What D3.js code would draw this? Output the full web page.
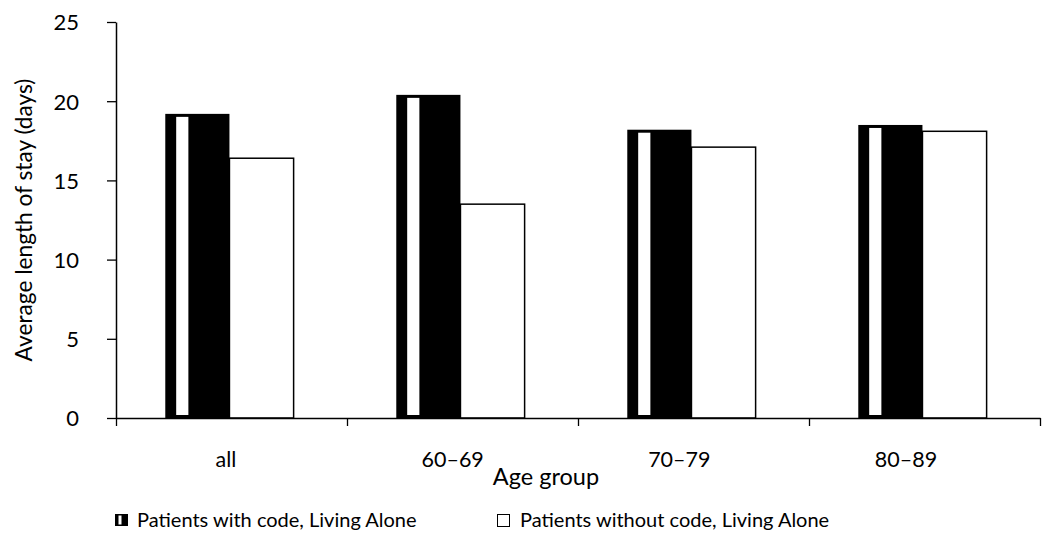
<!DOCTYPE html>
<html>
<head>
<meta charset="utf-8">
<script src="https://cdn.jsdelivr.net/npm/d3@7"></script>
<style>
  html, body { margin: 0; padding: 0; background: #fff; }
  svg { display: block; }
  text { font-family: Lato, "Open Sans", sans-serif; fill: #000; }
</style>
</head>
<body>
<svg id="chart" width="1045" height="540"></svg>
<script>
// Average length of stay by age group
const categories = ["all", "60–69", "70–79", "80–89"];
const seriesNames = ["Patients with code, Living Alone", "Patients without code, Living Alone"];
const withCode = [19.2, 20.4, 18.2, 18.5];
const withoutCode = [16.4, 13.5, 17.1, 18.1];
const yTicks = [0, 5, 10, 15, 20, 25];

const rows = categories.map((c, i) => ({ category: c, values: [withCode[i], withoutCode[i]] }));

const svg = d3.select("#chart");
const plot = { left: 116, right: 1040, top: 22, bottom: 418 };

const x = d3.scaleBand().domain(categories).range([plot.left, plot.right]).paddingInner(0).paddingOuter(0);
const xInner = d3.scaleBand().domain([0, 1]).range([0, x.bandwidth()])
  .paddingInner(0).paddingOuter(0.8).align(0.48);
const y = d3.scaleLinear().domain([0, 25]).range([plot.bottom, plot.top]);
const boundary = d3.scaleLinear().domain([0, categories.length]).range([plot.left, plot.right]);
// category labels sit slightly left of the band centres
const labelX = d3.scalePoint().domain(categories).range([226, 906]);

// Bars
const groups = svg.append("g").selectAll("g").data(rows).join("g")
  .attr("transform", d => `translate(${x(d.category)},0)`);

groups.each(function (d) {
  const g = d3.select(this);
  const bw = xInner.bandwidth();
  // black bar with a light vertical stripe
  g.append("rect")
    .attr("x", xInner(0)).attr("y", y(d.values[0]))
    .attr("width", bw).attr("height", y(0) - y(d.values[0]))
    .attr("fill", "#000");
  g.append("rect")
    .attr("x", xInner(0) + bw * 0.17).attr("y", y(d.values[0]) + 3)
    .attr("width", bw * 0.19).attr("height", Math.max(0, y(0) - y(d.values[0]) - 6))
    .attr("fill", "#fff");
  // white bar with outline
  g.append("rect")
    .attr("x", xInner(1)).attr("y", y(d.values[1]))
    .attr("width", bw).attr("height", y(0) - y(d.values[1]))
    .attr("fill", "#fff").attr("stroke", "#000").attr("stroke-width", 1.5);
});

// Y axis
const yAxis = svg.append("g").attr("transform", `translate(${plot.left},0)`)
  .call(d3.axisLeft(y).tickValues(yTicks).tickSize(9).tickPadding(28).tickSizeOuter(0));
yAxis.select(".domain").attr("stroke-width", 1.5);
yAxis.selectAll(".tick line").attr("stroke-width", 1.3);
yAxis.selectAll("text").style("font-size", "22px").attr("dy", "0.36em");

// X axis with ticks at category boundaries
const xAxis = svg.append("g").attr("transform", `translate(0,${plot.bottom})`)
  .call(d3.axisBottom(boundary).tickValues(d3.range(categories.length + 1)).tickFormat("").tickSize(8).tickSizeOuter(0));
xAxis.select(".domain").attr("stroke-width", 1.5);
xAxis.selectAll(".tick line").attr("stroke-width", 1.3);

svg.append("g").selectAll("text").data(categories).join("text")
  .attr("x", d => labelX(d))
  .attr("y", 467)
  .attr("text-anchor", "middle")
  .style("font-size", "21.5px")
  .text(d => d);

// Axis titles
svg.append("text")
  .attr("x", 546).attr("y", 485)
  .attr("text-anchor", "middle")
  .style("font-size", "23.5px")
  .text("Age group");

svg.append("text")
  .attr("transform", `translate(32,220) rotate(-90)`)
  .attr("text-anchor", "middle")
  .style("font-size", "22.7px")
  .text("Average length of stay (days)");

// Legend
const legend = svg.append("g");
const lx = [115, 497];
seriesNames.forEach((name, i) => {
  const g = legend.append("g").attr("transform", `translate(${lx[i]},514)`);
  if (i === 0) {
    g.append("rect").attr("x", 0).attr("y", 0).attr("width", 13).attr("height", 12).attr("fill", "#000");
    g.append("rect").attr("x", 3.5).attr("y", 1.5).attr("width", 3).attr("height", 9).attr("fill", "#fff");
  } else {
    g.append("rect").attr("x", 0.5).attr("y", 0.5).attr("width", 12).attr("height", 12)
      .attr("fill", "#fff").attr("stroke", "#000").attr("stroke-width", 1);
  }
  g.append("text").attr("x", i === 0 ? 22 : 23).attr("y", 13).style("font-size", "20px").text(name);
});
</script>
</body>
</html>
